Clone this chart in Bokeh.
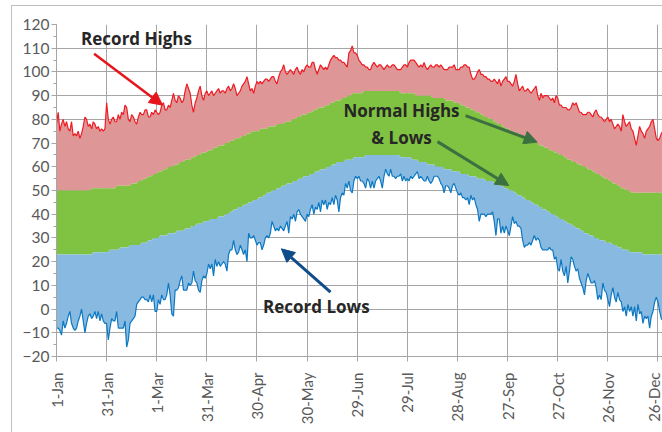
import math
import numpy as np
from bokeh.plotting import figure
from bokeh.models import FixedTicker, SingleIntervalTicker, Range1d, Arrow, NormalHead
from bokeh.core.properties import value
from bokeh.embed import file_html
from bokeh.resources import INLINE

# ---------------- data ----------------
TICK_DAYS = [0, 30, 60, 90, 120, 150, 180, 210, 240, 270, 300, 330, 360]
TICK_LABELS = ["1-Jan", "31-Jan", "1-Mar", "31-Mar", "30-Apr", "30-May", "29-Jun",
               "29-Jul", "28-Aug", "27-Sep", "27-Oct", "26-Nov", "26-Dec"]

# normal highs / lows: daily staircase read as (level, number of days)
NH_LEVELS = [50, 51, 52, 53, 54, 55, 56, 57, 58, 59, 60, 61, 62, 63, 64, 65, 66, 67, 68, 69,
             70, 71, 72, 73, 74, 75, 76, 77, 78, 79, 80, 81, 82, 83, 84, 85, 86, 87, 88, 89,
             90, 91, 92, 91, 90, 89, 88, 87, 86, 85, 84, 83, 82, 81, 80, 79, 78, 77, 76, 75,
             74, 73, 72, 71, 70, 69, 68, 67, 66, 65, 64, 63, 62, 61, 60, 59, 58, 57, 56, 55,
             54, 53, 52, 51, 50, 49]
NH_RUNS = [21, 15, 9, 4, 3, 3, 3, 3, 3, 3, 4, 3, 3, 4, 3, 3, 4, 3, 3, 4,
           3, 3, 4, 3, 3, 5, 5, 5, 5, 4, 3, 3, 4, 3, 3, 4, 3, 3, 4, 3,
           3, 7, 22, 9, 10, 8, 5, 4, 3, 3, 3, 3, 2, 3, 3, 2, 3, 2, 3, 3,
           3, 3, 3, 2, 3, 3, 3, 3, 3, 3, 2, 3, 3, 3, 3, 3, 2, 3, 2, 3,
           2, 3, 2, 3, 3, 21]

NL_LEVELS = [23, 24, 25, 26, 27, 28, 29, 30, 31, 32, 33, 34, 35, 36, 37, 38, 39, 40, 41, 42,
             43, 44, 45, 46, 47, 48, 49, 50, 51, 52, 53, 54, 55, 56, 57, 58, 59, 60, 61, 62,
             63, 64, 65, 64, 63, 62, 61, 60, 59, 58, 57, 56, 55, 54, 53, 52, 51, 50, 49, 48,
             47, 46, 45, 44, 43, 42, 41, 40, 39, 38, 37, 36, 35, 34, 33, 32, 31, 30, 29, 28,
             27, 26, 25, 24, 23]
NL_RUNS = [22, 10, 6, 6, 7, 4, 3, 4, 5, 5, 5, 4, 3, 4, 4, 5, 4, 3, 2, 3,
           3, 3, 3, 3, 3, 2, 3, 3, 3, 3, 4, 3, 3, 4, 3, 3, 4, 3, 3, 5,
           5, 7, 21, 7, 4, 5, 5, 5, 5, 5, 5, 5, 5, 5, 3, 3, 3, 3, 2, 3,
           2, 3, 2, 3, 2, 3, 2, 3, 2, 3, 2, 3, 2, 3, 2, 3, 3, 3, 4, 4,
           3, 3, 4, 8, 14]

RECORD_HIGH = [
    78, 83, 75, 78, 80, 77, 79, 76, 75, 79,
    73, 74, 73, 75, 72, 74, 77, 81, 80, 77,
    78, 76, 79, 78, 76, 77, 75, 76, 75, 76,
    87, 80, 78, 80, 81, 79, 79, 82, 80, 83,
    82, 86, 85, 80, 79, 82, 81, 79, 78, 81,
    83, 82, 82, 84, 84, 81, 81, 83, 82, 84,
    83, 82, 83, 86, 87, 84, 84, 86, 85, 88,
    91, 88, 87, 90, 89, 87, 88, 92, 95, 93,
    91, 86, 83, 87, 89, 92, 94, 90, 88, 91,
    92, 90, 91, 92, 90, 91, 92, 93, 91, 92,
    92, 91, 93, 94, 92, 93, 95, 93, 90, 91,
    92, 94, 95, 96, 98, 95, 92, 93, 91, 94,
    96, 95, 96, 95, 96, 97, 97, 96, 97, 98,
    98, 96, 95, 98, 100, 101, 103, 100, 99, 100,
    101, 100, 99, 101, 102, 100, 99, 101, 100, 102,
    103, 102, 102, 104, 104, 101, 99, 101, 103, 102,
    101, 102, 101, 103, 105, 106, 107, 106, 106, 105,
    105, 104, 104, 103, 102, 108, 109, 111, 108, 108,
    107, 105, 104, 103, 103, 102, 102, 101, 101, 103,
    104, 103, 102, 103, 103, 102, 101, 102, 103, 102,
    102, 103, 103, 102, 101, 101, 101, 102, 103, 103,
    102, 104, 105, 105, 105, 104, 103, 102, 103, 102,
    104, 102, 101, 102, 103, 102, 102, 103, 103, 102,
    103, 102, 101, 101, 101, 102, 102, 102, 103, 101,
    101, 101, 102, 102, 103, 103, 102, 102, 99, 97,
    97, 98, 100, 101, 99, 99, 98, 98, 97, 97,
    96, 96, 97, 96, 95, 97, 94, 96, 97, 98,
    96, 96, 95, 94, 96, 99, 95, 92, 93, 94,
    92, 92, 93, 92, 91, 92, 93, 94, 90, 88,
    91, 89, 90, 90, 90, 89, 88, 89, 87, 90,
    89, 86, 86, 85, 85, 85, 84, 84, 85, 87,
    86, 87, 85, 83, 83, 82, 82, 82, 83, 83,
    82, 81, 83, 84, 82, 81, 81, 80, 79, 80,
    81, 79, 80, 78, 76, 77, 78, 77, 75, 82,
    79, 77, 78, 79, 76, 75, 72, 69, 73, 77,
    75, 74, 72, 75, 76, 77, 79, 80, 76, 72,
    71, 72, 74, 75, 73]

RECORD_LOW = [
    -8, -8, -9, -11, -5, -8, -6, -3, -1, -6,
    -8, -9, -8, -5, -3, 0, -5, -10, -6, -3,
    -2, -4, -3, -1, -4, -1, -5, -2, -5, -6,
    -6, -13, -8, -4, -5, -5, -1, -8, -8, -8,
    -8, -5, -16, -13, -6, -5, -4, -3, 2, 3,
    4, 5, 5, 4, 4, 3, 6, 3, 6, -1,
    -1, 4, 2, 6, 4, 4, 6, 11, 6, -2,
    -3, 8, 8, 9, 12, 14, 8, 8, 8, 11,
    10, 11, 16, 12, 11, 8, 7, 12, 14, 13,
    15, 19, 17, 19, 14, 21, 18, 20, 18, 19,
    20, 19, 16, 23, 25, 25, 29, 25, 23, 24,
    27, 25, 23, 25, 20, 32, 30, 30, 31, 29,
    27, 28, 28, 25, 27, 30, 31, 30, 32, 37,
    35, 33, 34, 33, 35, 34, 33, 35, 37, 32,
    39, 38, 40, 37, 41, 42, 40, 39, 38, 37,
    40, 39, 42, 44, 40, 43, 42, 45, 41, 46,
    44, 46, 42, 45, 44, 47, 44, 48, 46, 41,
    47, 49, 48, 53, 51, 54, 50, 49, 54, 56,
    55, 56, 54, 54, 53, 51, 55, 54, 51, 54,
    51, 54, 55, 56, 54, 51, 56, 59, 57, 56,
    59, 56, 56, 55, 56, 56, 57, 54, 56, 54,
    55, 54, 56, 55, 56, 57, 58, 55, 56, 55,
    54, 54, 56, 54, 53, 54, 56, 56, 56, 55,
    53, 52, 49, 52, 52, 51, 49, 52, 53, 51,
    49, 48, 49, 47, 47, 46, 47, 44, 48, 46,
    47, 44, 42, 37, 40, 40, 40, 39, 40, 40,
    40, 41, 37, 31, 38, 38, 32, 35, 32, 35,
    33, 31, 35, 39, 36, 37, 35, 35, 34, 29,
    26, 27, 27, 28, 27, 29, 31, 29, 30, 29,
    26, 25, 25, 25, 25, 26, 25, 25, 21, 22,
    17, 16, 21, 16, 14, 18, 11, 16, 22, 21,
    18, 16, 17, 13, 11, 9, 6, 12, 15, 13,
    11, 11, 12, 9, 4, 6, 4, 11, 8, 7,
    4, 1, 6, 9, 5, 3, 7, 4, 3, -1,
    1, -3, 2, -1, 1, -3, 1, -5, 2, -2,
    -1, -6, -3, -4, -3, -8, -3, -1, 3, 5,
    3, -1, -4, -5, -4]

# ---------------- build ----------------
normal_high = np.repeat(NH_LEVELS, NH_RUNS)
normal_low = np.repeat(NL_LEVELS, NL_RUNS)
days = np.arange(len(RECORD_HIGH))

TICK_FONT = "Lato"
NOTE_FONT = "Open Sans"
TXT = "#262626"

p = figure(width=662, height=432, x_range=Range1d(0, 362.7), y_range=Range1d(-20, 120),
           output_backend="svg", toolbar_location=None,
           min_border_left=56, min_border_right=0, min_border_top=24, min_border_bottom=76)
p.outline_line_color = None
p.background_fill_color = "white"
p.border_fill_color = None
# chart-area border (left and top edges) drawn behind the transparent border area
p.styles = {"background": "linear-gradient(#BFBFBF,#BFBFBF) 11px 5px / 1px 427px no-repeat, "
                          "linear-gradient(#BFBFBF,#BFBFBF) 11px 5px / 651px 1px no-repeat, white"}

p.varea(x=days, y1=normal_high, y2=RECORD_HIGH, fill_color="#DF9696")
p.varea(x=days, y1=normal_low, y2=normal_high, fill_color="#80C241")
p.varea(x=days, y1=RECORD_LOW, y2=normal_low, fill_color="#88BAE1")
p.line(days, RECORD_HIGH, line_color="#EE1C24", line_width=1.2)
p.line(days, RECORD_LOW, line_color="#0C78C2", line_width=1.2)

# axes
p.xaxis.ticker = FixedTicker(ticks=TICK_DAYS)
p.xaxis.major_label_overrides = {d: l for d, l in zip(TICK_DAYS, TICK_LABELS)}
p.xaxis.major_label_orientation = math.pi / 2
p.yaxis.ticker = SingleIntervalTicker(interval=10, num_minor_ticks=2)

for ax in (p.xaxis, p.yaxis):
    ax.axis_line_color = "#A6A6A6"
    ax.major_tick_line_color = "#A6A6A6"
    ax.minor_tick_line_color = "#A6A6A6"
    ax.major_tick_out = 5
    ax.major_tick_in = 0
    ax.minor_tick_out = 3
    ax.minor_tick_in = 0
    ax.major_label_text_font = TICK_FONT
    ax.major_label_text_color = "#595959"
p.yaxis.major_label_text_font_size = "15.5px"
p.xaxis.major_label_text_font_size = "15px"
p.yaxis.major_label_standoff = 2
p.xaxis.major_label_standoff = 11

p.xgrid.grid_line_color = "#A6A6A6"
p.ygrid.grid_line_color = "#A6A6A6"
p.xgrid.grid_line_width = 1
p.ygrid.grid_line_width = 1

# annotations
p.text(x=[47.9, 206.5, 206.5, 155.5], y=[113.9, 83.6, 72.4, 1.1],
       text=["Record Highs", "Normal Highs", "& Lows", "Record Lows"],
       text_font=value(NOTE_FONT), text_font_style="bold", text_font_size="17px",
       text_color=TXT, text_align="center", text_baseline="alphabetic")

def arrow(x0, y0, x1, y1, color, width):
    p.add_layout(Arrow(end=NormalHead(size=13, fill_color=color, line_color=color),
                       x_start=x0, y_start=y0, x_end=x1, y_end=y1,
                       line_color=color, line_width=width))

arrow(22.5, 107.7, 63.5, 86.0, "#E8141B", 2.5)
arrow(244.8, 81.6, 287.7, 70.4, "#3D7040", 3)
arrow(228.0, 70.6, 270.7, 52.1, "#3D7040", 3)
arrow(164.0, 7.1, 134.6, 25.4, "#0F4C8A", 3)

open("out.html", "w").write(file_html(p, INLINE))
